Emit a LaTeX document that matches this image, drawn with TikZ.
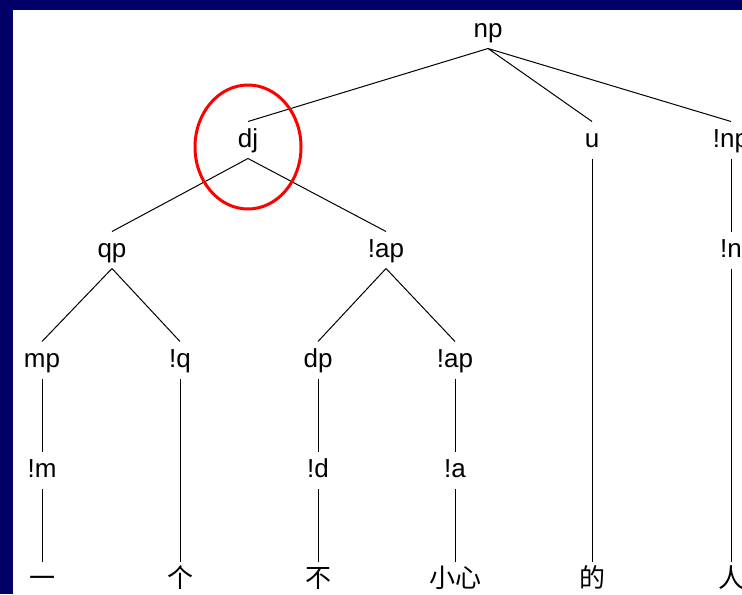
\documentclass[tikz,border=0pt]{standalone}
\usepackage{fontspec}
\setmainfont{Liberation Sans}
\newfontfamily\cjk{Noto Sans CJK SC}
\definecolor{mytrframe}{RGB}{0,0,102}
\begin{document}
\begin{tikzpicture}[x=0.5pt,y=-0.5pt,line join=round,line width=0.5pt,
        trlabel/.style={inner sep=0pt,minimum height=18pt,text height=10pt,text depth=3pt,font=\fontsize{13}{15}\selectfont},
        trword/.style={inner sep=0pt,minimum height=18pt,text height=10pt,text depth=3pt,font=\cjk\fontsize{13}{15}\selectfont}]
                \def\mytrtop{30}\def\mytrlv{110}
                \useasboundingbox (0,0) rectangle (742,594);
                \clip (0,0) rectangle (742,594);
                \fill[mytrframe] (0,0) rectangle (742,594);
                \fill[white] (13,10) rectangle (742,594);
                \node[trlabel] (ntnp) at (488,\mytrtop) {np};
                \node[trlabel] (ntdj) at (248,\mytrtop+\mytrlv) {dj};
                \node[trlabel] (ntu) at (592,\mytrtop+\mytrlv) {u};
                \node[trlabel] (ntnpb) at (731,\mytrtop+\mytrlv) {!np};
                \node[trlabel] (ntqp) at (112,\mytrtop+2*\mytrlv) {qp};
                \node[trlabel] (ntapa) at (386,\mytrtop+2*\mytrlv) {!ap};
                \node[trlabel] (ntn) at (731,\mytrtop+2*\mytrlv) {!n};
                \node[trlabel] (ntmp) at (42,\mytrtop+3*\mytrlv) {mp};
                \node[trlabel] (ntq) at (180,\mytrtop+3*\mytrlv) {!q};
                \node[trlabel] (ntdp) at (318,\mytrtop+3*\mytrlv) {dp};
                \node[trlabel] (ntapb) at (455,\mytrtop+3*\mytrlv) {!ap};
                \node[trlabel] (ntm) at (42,\mytrtop+4*\mytrlv) {!m};
                \node[trlabel] (ntd) at (318,\mytrtop+4*\mytrlv) {!d};
                \node[trlabel] (nta) at (455,\mytrtop+4*\mytrlv) {!a};
                \node[trword] (ntwa) at (42,\mytrtop+5*\mytrlv) {一};
                \node[trword] (ntwb) at (180,\mytrtop+5*\mytrlv) {个};
                \node[trword] (ntwc) at (318,\mytrtop+5*\mytrlv) {不};
                \node[trword] (ntwd) at (455,\mytrtop+5*\mytrlv) {小心};
                \node[trword] (ntwe) at (592,\mytrtop+5*\mytrlv) {的};
                \node[trword] (ntwf) at (731,\mytrtop+5*\mytrlv) {人};
                \draw (ntnp.south)--(ntdj.north) (ntnp.south)--(ntu.north) (ntnp.south)--(ntnpb.north);
                \draw (ntdj.south)--(ntqp.north) (ntdj.south)--(ntapa.north);
                \draw (ntqp.south)--(ntmp.north) (ntqp.south)--(ntq.north);
                \draw (ntapa.south)--(ntdp.north) (ntapa.south)--(ntapb.north);
                \draw (ntmp.south)--(ntm.north) (ntm.south)--(ntwa.north);
                \draw (ntq.south)--(ntwb.north);
                \draw (ntdp.south)--(ntd.north) (ntd.south)--(ntwc.north);
                \draw (ntapb.south)--(nta.north) (nta.south)--(ntwd.north);
                \draw (ntu.south)--(ntwe.north);
                \draw (ntnpb.south)--(ntn.north) (ntn.south)--(ntwf.north);
                \draw[red,line width=1.5pt] (248,147) ellipse [x radius=53,y radius=62];
            \end{tikzpicture}
\end{document}
